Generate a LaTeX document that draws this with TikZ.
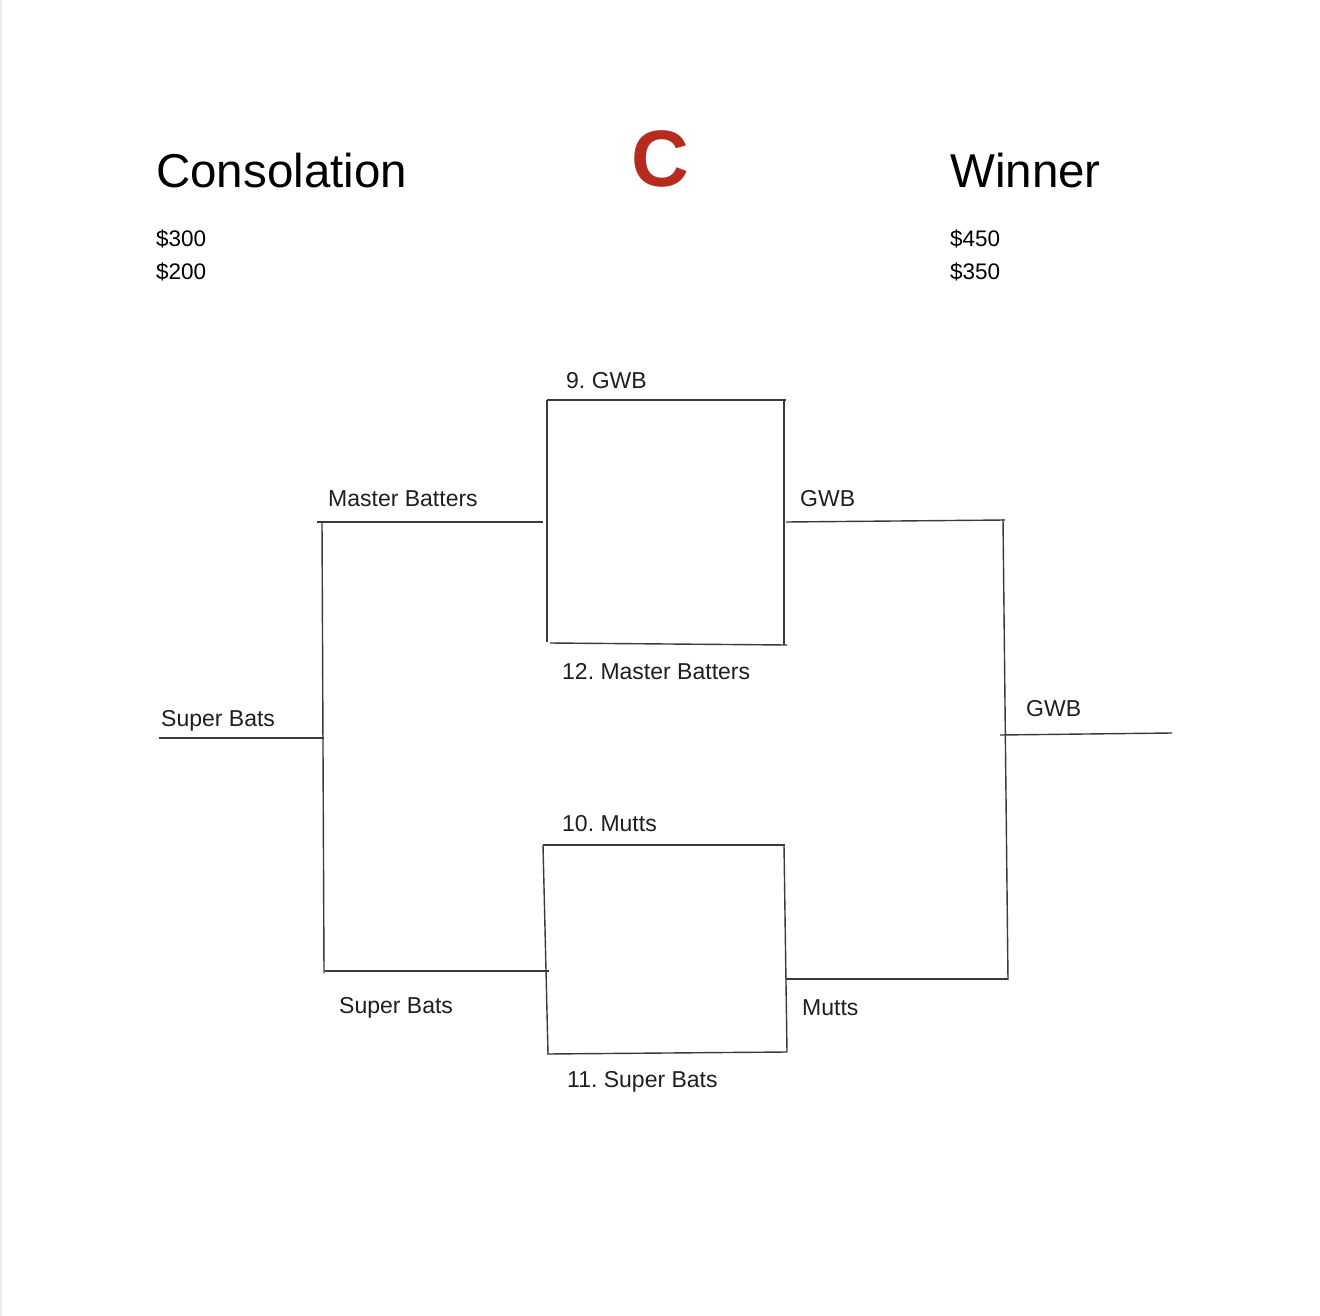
\documentclass[tikz,border=0pt]{standalone}
\usepackage{fontspec}
\setmainfont{Liberation Sans}
\frenchspacing
\definecolor{linegray}{HTML}{3A3A3A}
\definecolor{titlered}{HTML}{B72A1F}
\definecolor{edgegray}{HTML}{EEEEEE}
\begin{document}
\begin{tikzpicture}[x=1pt,y=-1pt,
  head/.style={anchor=base west,inner sep=0pt,font=\fontsize{47.5}{56}\selectfont},
  prize/.style={anchor=base west,inner sep=0pt,font=\fontsize{22.5}{26}\selectfont},
  lbl/.style={anchor=base west,inner sep=0pt,text=black!88,font=\fontsize{23}{27}\selectfont},
  bline/.style={draw=linegray,line width=1.4pt}]
\useasboundingbox (0,0) rectangle (1320,1316);
\fill[white] (0,0) rectangle (1320,1316);
\fill[edgegray] (0,0) rectangle (2,1316);
% headers
\node[head] (cons) at (156,188) {Consolation};
\node[head] (win) at (950,188) {Winner};
\node[anchor=base,inner sep=0pt,text=titlered,font=\fontsize{80}{90}\selectfont\bfseries] (cc) at (660,187) {C};
\node[prize] (p300) at (156,247) {\$300};
\node[prize] (p200) at (156,279) {\$200};
\node[prize] (p450) at (950,247) {\$450};
\node[prize] (p350) at (950,279) {\$350};
% coordinates of the bracket
\coordinate (b1tl) at (547,400);
\coordinate (b1tr) at (786,400);
\coordinate (b1rt) at (784,400);
\coordinate (b1rb) at (784,645);
\coordinate (b1bl) at (550,643);
\coordinate (b1br) at (787,645);
\coordinate (b1lb) at (547,642);
\coordinate (mbl) at (317,522);
\coordinate (mbr) at (543,522);
\coordinate (lvt) at (322,521);
\coordinate (lvb) at (324,973);
\coordinate (sbl) at (159,738);
\coordinate (sbr) at (324,738);
\coordinate (sb2l) at (325,971);
\coordinate (sb2r) at (549,971);
\coordinate (b2tl) at (543,845);
\coordinate (b2tr) at (785,845);
\coordinate (b2lb) at (548,1054);
\coordinate (b2rt) at (784,845);
\coordinate (b2rb) at (787,1052);
\coordinate (b2bl) at (547,1054);
\coordinate (b2br) at (787,1052);
\coordinate (gwl) at (786,522);
\coordinate (gwr) at (1005,520);
\coordinate (rvt) at (1003,519);
\coordinate (rvb) at (1008,980);
\coordinate (mul) at (786,979);
\coordinate (mur) at (1008,979);
\coordinate (wnl) at (1000,735);
\coordinate (wnr) at (1172,733);
% bracket lines
\draw[bline] (b1tl) -- (b1tr);
\draw[bline] (b1tl) -- (b1lb);
\draw[bline] (b1rt) -- (b1rb);
\draw[bline] (b1bl) -- (b1br);
\draw[bline] (mbl) -- (mbr);
\draw[bline] (lvt) -- (lvb);
\draw[bline] (sbl) -- (sbr);
\draw[bline] (sb2l) -- (sb2r);
\draw[bline] (b2tl) -- (b2tr);
\draw[bline] (b2tl) -- (b2lb);
\draw[bline] (b2rt) -- (b2rb);
\draw[bline] (b2bl) -- (b2br);
\draw[bline] (gwl) -- (gwr);
\draw[bline] (rvt) -- (rvb);
\draw[bline] (mul) -- (mur);
\draw[bline] (wnl) -- (wnr);
% labels
\node[lbl] (l9) at (566,388) {9. GWB};
\node[lbl] (lmb) at (328,506) {Master Batters};
\node[lbl] (lgw) at (800,506) {GWB};
\node[lbl] (l12) at (562,679) {12. Master Batters};
\node[lbl] (lsb) at (161,726) {Super Bats};
\node[lbl] (lgw2) at (1026,716) {GWB};
\node[lbl] (l10) at (562,831) {10. Mutts};
\node[lbl] (lsb2) at (339,1013) {Super Bats};
\node[lbl] (lmu) at (802,1015) {Mutts};
\node[lbl] (l11) at (567,1087) {11. Super Bats};
\end{tikzpicture}
\end{document}
